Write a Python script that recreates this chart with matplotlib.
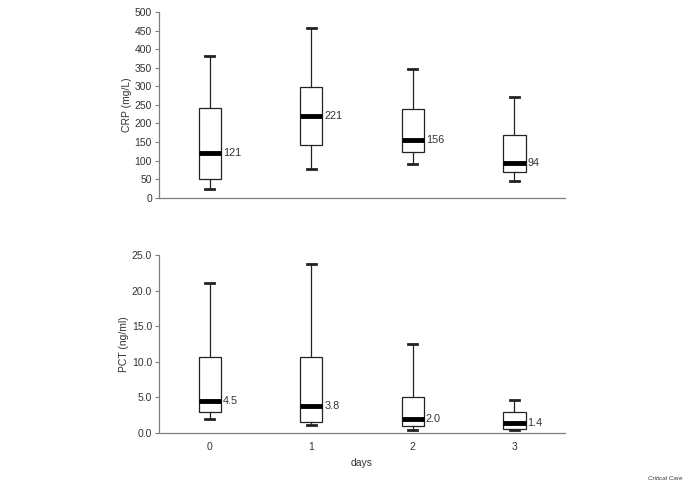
import matplotlib
matplotlib.use("Agg")
import matplotlib.pyplot as plt

days = ["0", "1", "2", "3"]
crp_min = [22, 78, 92, 44]
crp_q1 = [50, 143, 122, 69]
crp_med = [121, 221, 156, 94]
crp_q3 = [241, 299, 239, 170]
crp_max = [383, 458, 346, 272]
crp_labels = ["121", "221", "156", "94"]

pct_min = [1.9, 1.04, 0.34, 0.34]
pct_q1 = [2.9, 1.55, 0.99, 0.47]
pct_med = [4.5, 3.8, 2.0, 1.4]
pct_q3 = [10.7, 10.6, 5.03, 2.96]
pct_max = [21.07, 23.75, 12.5, 4.65]
pct_labels = ["4.5", "3.8", "2.0", "1.4"]

plt.rcParams['font.family'] = ['Liberation Sans', 'DejaVu Sans']
fig = plt.figure(figsize=(6.85, 4.82), dpi=100)
ax1 = fig.add_axes([0.232, 0.590, 0.593, 0.3845])
ax2 = fig.add_axes([0.232, 0.1023, 0.593, 0.368])

spine_col = "#7f7f7f"
text_col = "#333333"

def draw(ax, mins, q1s, meds, q3s, maxs, labels, ylim, yticks, fmt, ylabel):
    stats = []
    for i in range(len(mins)):
        stats.append(dict(med=meds[i], q1=q1s[i], q3=q3s[i], whislo=mins[i], whishi=maxs[i], fliers=[]))
    pos = list(range(len(mins)))
    ax.bxp(stats, positions=pos, widths=0.22, showfliers=False, patch_artist=True,
           boxprops=dict(facecolor="white", edgecolor="#222222", linewidth=0.9),
           whiskerprops=dict(color="#222222", linewidth=0.9),
           capprops=dict(color="#222222", linewidth=2.0),
           medianprops=dict(color="black", linewidth=3.5, solid_capstyle="butt"),
           capwidths=0.085)
    for i, lab in enumerate(labels):
        ax.text(pos[i] + 0.13, meds[i], lab, va="center", ha="left", fontsize=7.8, color=text_col)
    ax.set_xlim(-0.5, 3.5)
    ax.set_ylim(*ylim)
    ax.set_yticks(yticks)
    ax.set_yticklabels([fmt.format(v) for v in yticks])
    for s in ["top", "right"]:
        ax.spines[s].set_visible(False)
    for s in ["left", "bottom"]:
        ax.spines[s].set_color(spine_col)
        ax.spines[s].set_linewidth(0.9)
    ax.tick_params(axis="y", length=3, width=0.8, color=spine_col, labelsize=7.5, labelcolor=text_col, pad=2)
    ax.set_ylabel(ylabel, fontsize=7.5, color=text_col, labelpad=2)

draw(ax1, crp_min, crp_q1, crp_med, crp_q3, crp_max, crp_labels, (0, 500),
     list(range(0, 501, 50)), "{:d}", "CRP (mg/L)")
ax1.set_xticks([])

draw(ax2, pct_min, pct_q1, pct_med, pct_q3, pct_max, pct_labels, (0, 25),
     [0, 5, 10, 15, 20, 25], "{:.1f}", "PCT (ng/ml)")
ax2.set_xticks(range(len(days)))
ax2.set_xticklabels(days)
ax2.tick_params(axis="x", length=0, labelsize=7.5, labelcolor=text_col, pad=7)
ax2.set_xlabel("days", fontsize=7.5, color=text_col, labelpad=4)

fig.text(0.997, 0.003, "Critical Care", fontsize=4.5, style="italic", ha="right", va="bottom", color="#333333")

fig.savefig("out.png", dpi=100, facecolor="white")
